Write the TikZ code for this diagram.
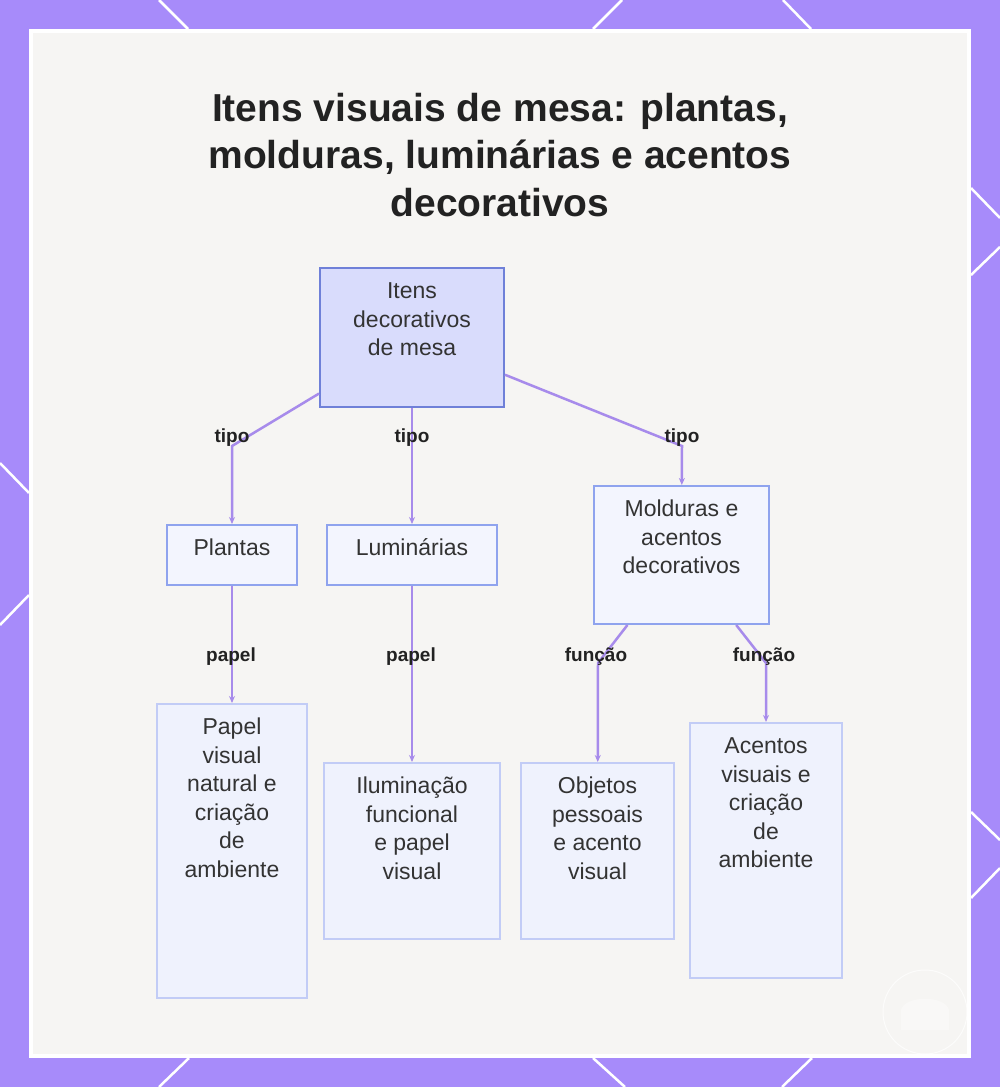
\documentclass[tikz,border=0pt]{standalone}
\usepackage{fontspec}
\setmainfont{Liberation Sans}
\usetikzlibrary{arrows.meta}

\definecolor{bordercol}{HTML}{A78BFA}
\definecolor{panelcol}{HTML}{F6F5F3}
\definecolor{rootfill}{HTML}{D9DCFC}
\definecolor{rootline}{HTML}{6F80D8}
\definecolor{catfill}{HTML}{F3F5FE}
\definecolor{catline}{HTML}{8FA3EE}
\definecolor{leaffill}{HTML}{EFF2FD}
\definecolor{leafline}{HTML}{C2CCF6}
\definecolor{edgecol}{HTML}{A78BEB}
\definecolor{bodytext}{HTML}{333333}
\definecolor{darktext}{HTML}{222222}

% box text: width, height, lines (first baseline fixed from the top)
\newcommand{\boxtext}[3]{\parbox[c][#2][t]{#1}{\centering\rule{0pt}{30.5pt}#3}}

\tikzset{
  rootbox/.style={draw=rootline, fill=rootfill, line width=2pt, inner sep=0pt,
    text=bodytext, font=\fontsize{23pt}{28.5pt}\selectfont},
  catbox/.style={rootbox, draw=catline, fill=catfill},
  leafbox/.style={rootbox, draw=leafline, fill=leaffill},
  edge/.style={draw=edgecol, line width=2.5pt, -{Stealth[length=7pt,width=6pt]}},
  elabel/.style={anchor=base, inner sep=0pt, text=darktext,
    font=\fontsize{19pt}{22pt}\selectfont\bfseries},
}

\begin{document}
\begin{tikzpicture}[x=1pt, y=-1pt]
\useasboundingbox (0,0) rectangle (1000,1087);

% Frame and panel
\fill[bordercol] (0,0) rectangle (1000,1087);
\fill[white] (29,29) rectangle (971,1058);
\fill[panelcol] (33,33) rectangle (967,1054);

% White strokes on the frame
\begin{scope}[white, line width=2.5pt]
\draw (159,0) -- (188,29);
\draw (622,0) -- (593,29);
\draw (783,0) -- (811,29);
\draw (189,1058) -- (159,1087);
\draw (593,1058) -- (625,1087);
\draw (812,1058) -- (782,1087);
\draw (0,463) -- (29,493);
\draw (29,595) -- (0,625);
\draw (971,188) -- (1000,218);
\draw (1000,247) -- (971,275);
\draw (971,812) -- (1000,840);
\draw (1000,868) -- (971,898);
\end{scope}

% Faint badge
\draw[white, line width=1pt, opacity=0.7] (925,1012) circle (42);
\fill[white, opacity=0.35] (901,1030) -- (901,1010) .. controls (905,995) and (945,995) .. (949,1010) -- (949,1030) -- cycle;

% Title
\node[anchor=north, inner sep=0pt, align=center, text=darktext,
  font=\fontsize{39pt}{47.5pt}\selectfont\bfseries] (title) at (500,91)
  {\rule{0pt}{30pt}Itens visuais de mesa: plantas,\\molduras, luminárias e acentos\\decorativos};

% Root
\node[rootbox] (root) at (412,337.5) {\boxtext{184pt}{139pt}{Itens\\decorativos\\de mesa}};

% Types
\node[catbox] (plantas) at (232,555) {\boxtext{130pt}{60pt}{Plantas}};
\node[catbox] (lumin) at (412,555) {\boxtext{170pt}{60pt}{Luminárias}};
\node[catbox] (moldur) at (681.5,555) {\boxtext{175pt}{138pt}{Molduras e\\acentos\\decorativos}};

% Roles
\node[leafbox] (papelvis) at (232,851) {\boxtext{150pt}{294pt}{Papel\\visual\\natural e\\criação\\de\\ambiente}};
\node[leafbox] (ilum) at (412,851) {\boxtext{176pt}{176pt}{Iluminação\\funcional\\e papel\\visual}};
\node[leafbox] (objetos) at (597.5,851) {\boxtext{153pt}{176pt}{Objetos\\pessoais\\e acento\\visual}};
\node[leafbox] (acentos) at (766,850.5) {\boxtext{152pt}{255pt}{Acentos\\visuais e\\criação\\de\\ambiente}};

% Bend points
\coordinate (bplantas) at (232,446);
\coordinate (bmoldur) at (682,446);
\coordinate (bobjetos) at (598,663);
\coordinate (bacentos) at (766,663);

% Connectors
\draw[edge] (root) -- (bplantas) -- (plantas);
\draw[edge] (root) -- (lumin);
\draw[edge] (root) -- (bmoldur) -- (moldur);
\draw[edge] (plantas) -- (papelvis);
\draw[edge] (lumin) -- (ilum);
\draw[edge] (moldur) -- (bobjetos) -- (objetos);
\draw[edge] (moldur) -- (bacentos) -- (acentos);

% Connector labels
\node[elabel] (ltipoa) at (232,442) {tipo};
\node[elabel] (ltipob) at (412,442) {tipo};
\node[elabel] (ltipoc) at (682,442) {tipo};
\node[elabel] (lpapela) at (231,661) {papel};
\node[elabel] (lpapelb) at (411,661) {papel};
\node[elabel] (lfuncaoa) at (596,661) {função};
\node[elabel] (lfuncaob) at (764,661) {função};
\end{tikzpicture}
\end{document}
